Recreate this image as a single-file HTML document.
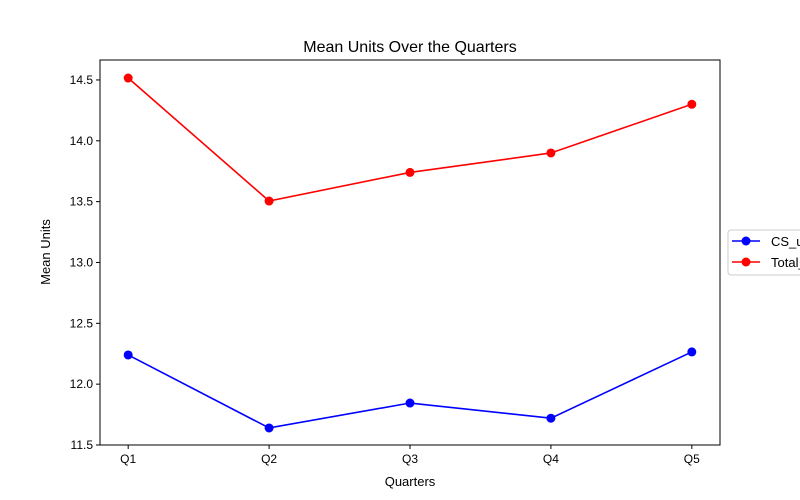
<!DOCTYPE html>
<html><head><meta charset="utf-8"><style>body{margin:0;background:#fff}svg{display:block;font-family:"Liberation Sans","DejaVu Sans",sans-serif}</style></head>
<body>
<svg width="800" height="500">
<g id="g"></g>
</svg>
<script>
const categories=["Q1","Q2","Q3","Q4","Q5"];
const csUnits=[12.24,11.64,11.845,11.72,12.265];
const totalUnits=[14.516,13.505,13.74,13.90,14.30];
const yTicks=[11.5,12.0,12.5,13.0,13.5,14.0,14.5];
const L=100,R=720,T=60,B=445,ymin=11.5,ymax=14.664;
const xs=i=>L+(i+0.2)/4.4*(R-L);
const ys=v=>B-(v-ymin)/(ymax-ymin)*(B-T);
const NS="http://www.w3.org/2000/svg",g=document.getElementById('g');
function mk(t,a,txt){const e=document.createElementNS(NS,t);for(const k in a)e.setAttribute(k,a[k]);if(txt!=null)e.textContent=txt;g.appendChild(e);return e;}
let e;
e=mk('rect',{x:L,y:T,width:R-L,height:B-T,fill:'none',stroke:'#000','stroke-width':1});


e=mk('text',{x:410,y:52,'text-anchor':'middle','font-size':16},'Mean Units Over the Quarters');


yTicks.forEach(v=>{const y=ys(v);mk('line',{x1:L-4,x2:L,y1:y,y2:y,stroke:'#000'});
e=mk('text',{x:L-7,y:y+4,'text-anchor':'end','font-size':12},v.toFixed(1));

});
categories.forEach((c,i)=>{const x=xs(i);mk('line',{x1:x,x2:x,y1:B,y2:B+4,stroke:'#000'});
e=mk('text',{x:x,y:B+18,'text-anchor':'middle','font-size':12},c);

});
e=mk('text',{x:410,y:486,'text-anchor':'middle','font-size':13},'Quarters');


e=mk('text',{x:50,y:252,'text-anchor':'middle','font-size':13,transform:'rotate(-90 50 252)'},'Mean Units');


function series(vals,col,name){
e=mk('polyline',{points:vals.map((v,i)=>xs(i)+','+ys(v)).join(' '),fill:'none',stroke:col,'stroke-width':1.6});


vals.forEach((v,i)=>{e=mk('circle',{cx:xs(i),cy:ys(v),r:4.5,fill:col});

});}
series(csUnits,'#0000ff','cs-units');
series(totalUnits,'#ff0000','total-units');
e=mk('rect',{x:728,y:230,width:80,height:45,rx:3,fill:'#fff',stroke:'#ccc'});


[['#0000ff','CS_units',241],['#ff0000','Total_units',262]].forEach(([c,t,y])=>{
mk('line',{x1:732,x2:760,y1:y,y2:y,stroke:c,'stroke-width':1.6});
mk('circle',{cx:746,cy:y,r:4.5,fill:c});
e=mk('text',{x:771,y:y+5,'font-size':13},t);

});
</script>
</body></html>
